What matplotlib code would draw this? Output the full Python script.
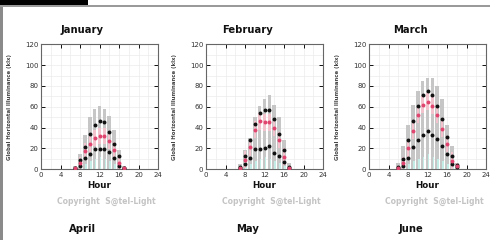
import matplotlib
matplotlib.use("Agg")
import matplotlib.pyplot as plt
from matplotlib.patches import Rectangle
import numpy as np

W, H = 490, 240

months_top = ["January", "February", "March"]
months_bottom = ["April", "May", "June"]

# hourly statistics (klx)
jan_hours = [7, 8, 9, 10, 11, 12, 13, 14, 15, 16, 17]
jan_upper = [1, 9, 21, 34, 42, 46, 45, 36, 24, 13, 1]
jan_median = [1, 6, 17, 24, 30, 32, 32, 27, 18, 6, 1]
jan_lower = [0.5, 3, 11, 14, 19, 19, 19, 16, 11, 3, 0.5]
jan_max = [3, 14, 33, 50, 58, 61, 58, 51, 38, 18, 3]
jan_min = [0, 2, 5, 8, 10, 12, 10, 8, 5, 2, 0]

feb_hours = [7, 8, 9, 10, 11, 12, 13, 14, 15, 16, 17]
feb_upper = [2, 13, 28, 43, 54, 57, 57, 48, 34, 18, 2]
feb_median = [1, 9, 21, 38, 46, 45, 45, 40, 28, 12, 1]
feb_lower = [0.5, 5, 11, 19, 19, 20, 22, 15, 13, 7, 0.5]
feb_max = [5, 18, 30, 50, 61, 67, 71, 62, 50, 28, 6]
feb_min = [0, 2, 5, 8, 10, 12, 10, 8, 6, 3, 0]

mar_hours = [6, 7, 8, 9, 10, 11, 12, 13, 14, 15, 16, 17, 18]
mar_upper = [2, 10, 28, 46, 61, 71, 75, 71, 61, 48, 31, 13, 4]
mar_median = [1, 6, 20, 37, 52, 62, 65, 61, 52, 39, 24, 8, 3]
mar_lower = [0.5, 3, 11, 21, 28, 33, 37, 33, 29, 22, 14, 5, 2]
mar_max = [6, 22, 42, 62, 75, 85, 88, 88, 80, 67, 42, 22, 6]
mar_min = [0, 2, 5, 8, 10, 12, 14, 12, 10, 8, 5, 2, 0]

xticks = [0, 4, 8, 12, 16, 20, 24]
yticks = [0, 20, 40, 60, 80, 100, 120]

data = [
    (jan_hours, jan_upper, jan_median, jan_lower, jan_max, jan_min),
    (feb_hours, feb_upper, feb_median, feb_lower, feb_max, feb_min),
    (mar_hours, mar_upper, mar_median, mar_lower, mar_max, mar_min),
]

fig = plt.figure(figsize=(W / 100, H / 100), dpi=100)
fig.patch.set_facecolor("white")


def rect(x0, x1, ytop, ybot):
    return [x0 / W, 1 - ybot / H, (x1 - x0) / W, (ybot - ytop) / H]


# frame decorations
fig.add_artist(Rectangle((0, 1 - 4.5 / H), 88 / W, 4.5 / H, transform=fig.transFigure,
                         facecolor="black", edgecolor="none"))
fig.add_artist(Rectangle((0, 1 - 7 / H), 1, 2 / H, transform=fig.transFigure,
                         facecolor="#9a9a9a", edgecolor="none"))
fig.add_artist(Rectangle((0, 0), 3 / W, 1 - 7 / H, transform=fig.transFigure,
                         facecolor="#8a8a8a", edgecolor="none"))

lefts = [41, 206, 369]
for i, (left, name, bname) in enumerate(zip(lefts, months_top, months_bottom)):
    hrs, up, med, low, mx, mn = data[i]
    ax = fig.add_axes(rect(left, left + 117, 44.5, 169))
    ax.set_xlim(0, 24)
    ax.set_ylim(0, 120)
    ax.set_xticks(np.arange(0, 25, 2), minor=True)
    ax.set_yticks(np.arange(0, 121, 10), minor=True)
    ax.grid(True, which="both", color="#ebebeb", linewidth=0.5)
    ax.set_axisbelow(True)
    hrs = np.array(hrs)
    up, med, low, mx, mn = map(np.array, (up, med, low, mx, mn))
    ax.bar(hrs, mx, width=0.72, color="#c6c6c6", zorder=2)
    ax.bar(hrs + 0.2, mn, width=0.32, color="#c4ece6", zorder=3)
    ax.bar(hrs, np.minimum(med, 8) * 2, bottom=med - np.minimum(med, 8),
           width=0.5, color="#f2c2cd", zorder=3)
    ax.scatter(hrs, up, s=8, color="#111111", zorder=5, linewidths=0)
    ax.scatter(hrs, low, s=8, color="#111111", zorder=5, linewidths=0)
    ax.scatter(hrs, med, s=8, color="#e0456f", zorder=5, linewidths=0)
    ax.set_xticks(xticks)
    ax.set_yticks(yticks)
    ax.tick_params(which="major", direction="in", length=3, width=0.7, top=True, right=True,
                   labelsize=5, colors="#111111", pad=2, labelcolor="#333333")
    ax.tick_params(which="minor", length=0)
    for s in ax.spines.values():
        s.set_color("#666666")
        s.set_linewidth(0.8)
    ax.set_xlabel("Hour", fontsize=6.3, fontweight="bold", labelpad=2, color="#111111")
    ax.set_ylabel("Global Horizontal Illuminance (klx)", fontsize=3.9, fontweight="bold",
                  color="#444444", labelpad=9)
    cx = left + 58.5
    fig.text((cx - 17) / W, 1 - 30 / H, name, fontsize=7.2, fontweight="bold",
             ha="center", va="center", color="#111111")
    fig.text((cx + 7) / W, 1 - 201 / H, "Copyright  S@tel-Light", fontsize=5.6,
             ha="center", va="center", color="#c4c4c4", fontweight="bold")
    fig.text((cx - 17) / W, 1 - 229 / H, bname, fontsize=7.2, fontweight="bold",
             ha="center", va="center", color="#111111")

fig.savefig("out.png", dpi=100)
